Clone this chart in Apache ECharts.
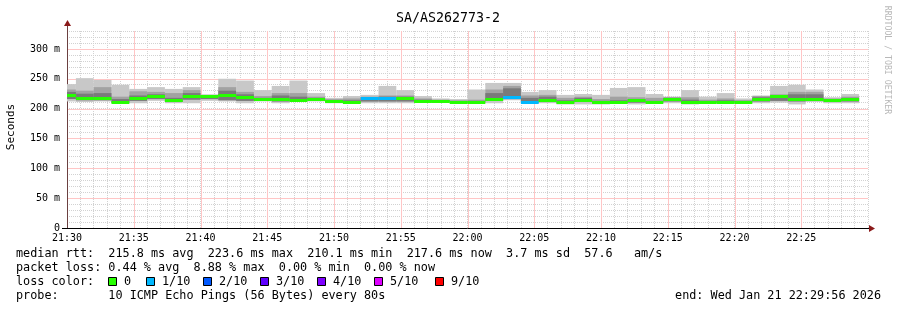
<!DOCTYPE html>
<html><head><meta charset="utf-8">
<script src="https://cdn.jsdelivr.net/npm/echarts@6/dist/echarts.min.js"></script>
<style>html,body{margin:0;padding:0;background:#fff}#c{width:897px;height:310px}</style>
</head><body><div id="c"></div><script>
// ---- data ----
const title = 'SA/AS262773-2';
const stepSeconds = 80;
const startTimes = ['21:29:20','21:30:40','21:32:00','21:33:20','21:34:40','21:36:00','21:37:20','21:38:40','21:40:00','21:41:20',
  '21:42:40','21:44:00','21:45:20','21:46:40','21:48:00','21:49:20','21:50:40','21:52:00','21:53:20','21:54:40',
  '21:56:00','21:57:20','21:58:40','22:00:00','22:01:20','22:02:40','22:04:00','22:05:20','22:06:40','22:08:00',
  '22:09:20','22:10:40','22:12:00','22:13:20','22:14:40','22:16:00','22:17:20','22:18:40','22:20:00','22:21:20',
  '22:22:40','22:24:00','22:25:20','22:26:40','22:28:00'];
const smokeMax = [241,251,248,240,233,236,233,236,224,250,247,231,238,247,226,218,221,223,238,231,
  221,217,216,232,243,243,228,231,223,224.5,223,234.6,236,224.5,220,231,220,226,217,222,238,240,232,219,224.5];
const smokeHi  = [232,230,236,220,229,228,226,231,222,236,228,221,226,226,220,216,217,220,222,222,
  217,215,214,215,232,238,222,223,218,220,216,220,219,218,219,219,215,217,214,221,224,228,228,217,220];
const smokeMidHi = [228,225,226,216,222,224,218,226,221,230,224,218,222,220,218,214,214,219,220,220,
  215,214,212,213,226,234,218,220,214,218,213,214,216,213,218,215,213,214,213,219,222,224,224,216,218];
const medianRtt= [223,217,217,211,217,221,214,221,221,222,219.5,216,216,215,216.7,212,211,218,218,218.5,
  213,213,211,211,216.7,220,211,214.5,211,215,211,211.5,214.5,211,216,211,211,211,211,216.7,221,216.7,216,214.5,216.7];
const smokeLo  = [216,214,214,210,213,216,211,215,216,214,213,214,212,213,214,210,210,212,212,212,
  211,212,210,210,213,216,210,211,209,211,209,210,210,210,212,209,210,210,210,212,213,212,213,212,212];
const smokeMin = [212,211,212,209,209,213,209,209,213,212,209,212,209,212,212,209,209,209,209,209,
  210,211,209,209,209,214,209,209,207,207,207,209,207,209,209,207,209,209,209,209,210,207,211,209,209];
const lossTenths = [0,0,0,0,0,0,0,0,0,0,0,0,0,0,0,0,0,1,1,0,0,0,0,0,0,1,1,0,0,0,0,0,0,0,0,0,0,0,0,0,0,0,0,0,0];
const lossSteps  = ['0','1/10','2/10','3/10','4/10','5/10','9/10'];
const lossValues = [0,1,2,3,4,5,9];
const lossColors = ['#26ff00','#00b8ff','#0059ff','#5e00ff','#7e00ff','#dd00ff','#ff0000'];
const xTickLabels = ['21:30','21:35','21:40','21:45','21:50','21:55','22:00','22:05','22:10','22:15','22:20','22:25'];
const yTickLabels = ['0','50 m','100 m','150 m','200 m','250 m','300 m'];
const statLines = [
  'median rtt:  215.8 ms avg  223.6 ms max  210.1 ms min  217.6 ms now  3.7 ms sd  57.6   am/s',
  'packet loss: 0.44 % avg  8.88 % max  0.00 % min  0.00 % now',
  'loss color:',
  'probe:       10 ICMP Echo Pings (56 Bytes) every 80s'
];
const endText = 'end: Wed Jan 21 22:29:56 2026';

// ---- helpers ----
const base = 21*3600 + 30*60;
function toSec(s){const p=s.split(':').map(Number);return p[0]*3600+p[1]*60+p[2]-base;}
const starts = startTimes.map(toSec);
function band(lowArr, highArr){
  return starts.map((s,i)=>[s, s+stepSeconds, lowArr[i], highArr[i]]);
}
function rectRender(params, api){
  const p0 = api.coord([api.value(0), api.value(3)]);
  const p1 = api.coord([api.value(1), api.value(2)]);
  const cs = params.coordSys;
  const shape = echarts.graphic.clipRectByRect(
    {x:p0[0], y:p0[1], width:p1[0]-p0[0], height:p1[1]-p0[1]},
    {x:cs.x, y:cs.y, width:cs.width, height:cs.height});
  return shape && {type:'rect', shape, style:{fill: api.visual('color')}};
}
function medRender(params, api){
  const p0 = api.coord([api.value(0), api.value(2)]);
  const p1 = api.coord([api.value(1), api.value(2)]);
  const cs = params.coordSys;
  const shape = echarts.graphic.clipRectByRect(
    {x:p0[0], y:Math.round(p0[1])-1, width:p1[0]-p0[0], height:3},
    {x:cs.x, y:cs.y, width:cs.width, height:cs.height});
  return shape && {type:'rect', shape, style:{fill: lossColors[lossValues.indexOf(api.value(3))]}};
}
// major grid lines as thin filled rects, placed through the axis scales
function vMajorRender(params, api){
  const cs = params.coordSys;
  const x = Math.round(api.coord([api.value(0), 0])[0]);
  return {type:'rect', shape:{x:x, y:cs.y, width:1, height:cs.height}, style:{fill: api.visual('color')}};
}
function hMajorRender(params, api){
  const cs = params.coordSys;
  const y = Math.round(api.coord([0, api.value(0)])[1]);
  return {type:'rect', shape:{x:cs.x+1, y:y, width:cs.width-1, height:1}, style:{fill: api.visual('color')}};
}
const mono = 'DejaVu Sans Mono';
const minorC = '#d2d2d2';
const majorC = '#ffc6c6';

const chart = echarts.init(document.getElementById('c'), null, {renderer:'canvas'});
const L = 67, R = 868, T = 31, B = 228;
const fs = '11.8px ';

const graphics = [];
graphics.push({type:'text', x:448, y:19, style:{text:title, font:'13.3px '+mono, fill:'#000', textAlign:'center', textVerticalAlign:'middle'}});
graphics.push({type:'text', x:11, y:127, rotation:Math.PI/2, style:{text:'Seconds', font:'11px '+mono, fill:'#000', textAlign:'center', textVerticalAlign:'middle'}});
graphics.push({type:'text', x:887, y:60, rotation:-Math.PI/2, style:{text:'RRDTOOL / TOBI OETIKER', font:'8.2px '+mono, fill:'#b8b8b8', textAlign:'center', textVerticalAlign:'middle'}});
graphics.push({type:'rect', shape:{x:L, y:25, width:1, height:T-25}, style:{fill:'#6b4040'}});
graphics.push({type:'polygon', shape:{points:[[L-3,26],[L+4,26],[L+0.5,20]]}, style:{fill:'#8b1a1a'}});
graphics.push({type:'rect', shape:{x:62, y:B, width:L-62, height:1}, style:{fill:'#000'}});
graphics.push({type:'rect', shape:{x:R, y:B, width:2, height:1}, style:{fill:'#000'}});
graphics.push({type:'polygon', shape:{points:[[869,B-3],[869,B+4],[875,B+0.5]]}, style:{fill:'#8b1a1a'}});
const lineY = [254, 268, 282, 296];
statLines.forEach((t,i)=>graphics.push({type:'text', x:16, y:lineY[i], style:{text:t, font:fs+mono, fill:'#000', textVerticalAlign:'middle'}}));
const sqX = [108,146,203,260,317,374,435];
lossSteps.forEach((s,i)=>{
  graphics.push({type:'rect', shape:{x:sqX[i]+0.5, y:277.5, width:8, height:8}, style:{fill:lossColors[i], stroke:'#000', lineWidth:1}});
  graphics.push({type:'text', x:sqX[i]+16, y:282, style:{text:s, font:fs+mono, fill:'#000', textVerticalAlign:'middle'}});
});
graphics.push({type:'text', x:881, y:296, style:{text:endText, font:fs+mono, fill:'#000', textAlign:'right', textVerticalAlign:'middle'}});

const xMajorVals = xTickLabels.map((_,i)=>[i*300]).slice(1);
const yMajorVals = yTickLabels.map((_,i)=>[i*50]).slice(1);

chart.setOption({
  animation:false,
  backgroundColor:'#fff',
  grid:{left:L, right:897-R, top:T, bottom:310-B, containLabel:false},
  xAxis:{type:'value', min:0, max:3600, interval:60,
    axisLine:{show:true, onZero:false, lineStyle:{color:'#000', width:1}},
    axisTick:{show:false},
    axisLabel:{show:true, showMaxLabel:false, margin:5, color:'#000', fontFamily:mono, fontSize:10,
      formatter:v=> (v%300===0 && v/300 < xTickLabels.length) ? xTickLabels[v/300] : ''},
    splitLine:{show:true, lineStyle:{color:minorC, type:[1,1], width:1}}},
  yAxis:{type:'value', min:0, max:330, interval:10,
    axisLine:{show:true, lineStyle:{color:'#6b4040', width:1}},
    axisTick:{show:false},
    axisLabel:{show:true, margin:7, color:'#000', fontFamily:mono, fontSize:10,
      formatter:v=> (v%50===0 && v/50 < yTickLabels.length) ? yTickLabels[v/50] : ''},
    splitLine:{show:true, lineStyle:{color:minorC, type:[1,1], width:1}}},
  graphic:graphics,
  series:[
    {type:'custom', z:1, renderItem:vMajorRender, data:xMajorVals, itemStyle:{color:majorC}, silent:true},
    {type:'custom', z:1, renderItem:hMajorRender, data:yMajorVals, itemStyle:{color:majorC}, silent:true},
    {type:'custom', z:2, renderItem:rectRender, data:band(smokeMin, smokeMax), itemStyle:{color:'#c8c8c8'}, silent:true},
    {type:'custom', z:3, renderItem:rectRender, data:band(smokeLo, smokeHi), itemStyle:{color:'#a2a2a2'}, silent:true},
    {type:'custom', z:4, renderItem:rectRender, data:band(smokeLo, smokeMidHi), itemStyle:{color:'#7a7a7a'}, silent:true},
    {type:'custom', z:5, renderItem:medRender, data:starts.map((s,i)=>[s, s+stepSeconds, medianRtt[i], lossTenths[i]]), silent:true}
  ]
});
</script></body></html>
